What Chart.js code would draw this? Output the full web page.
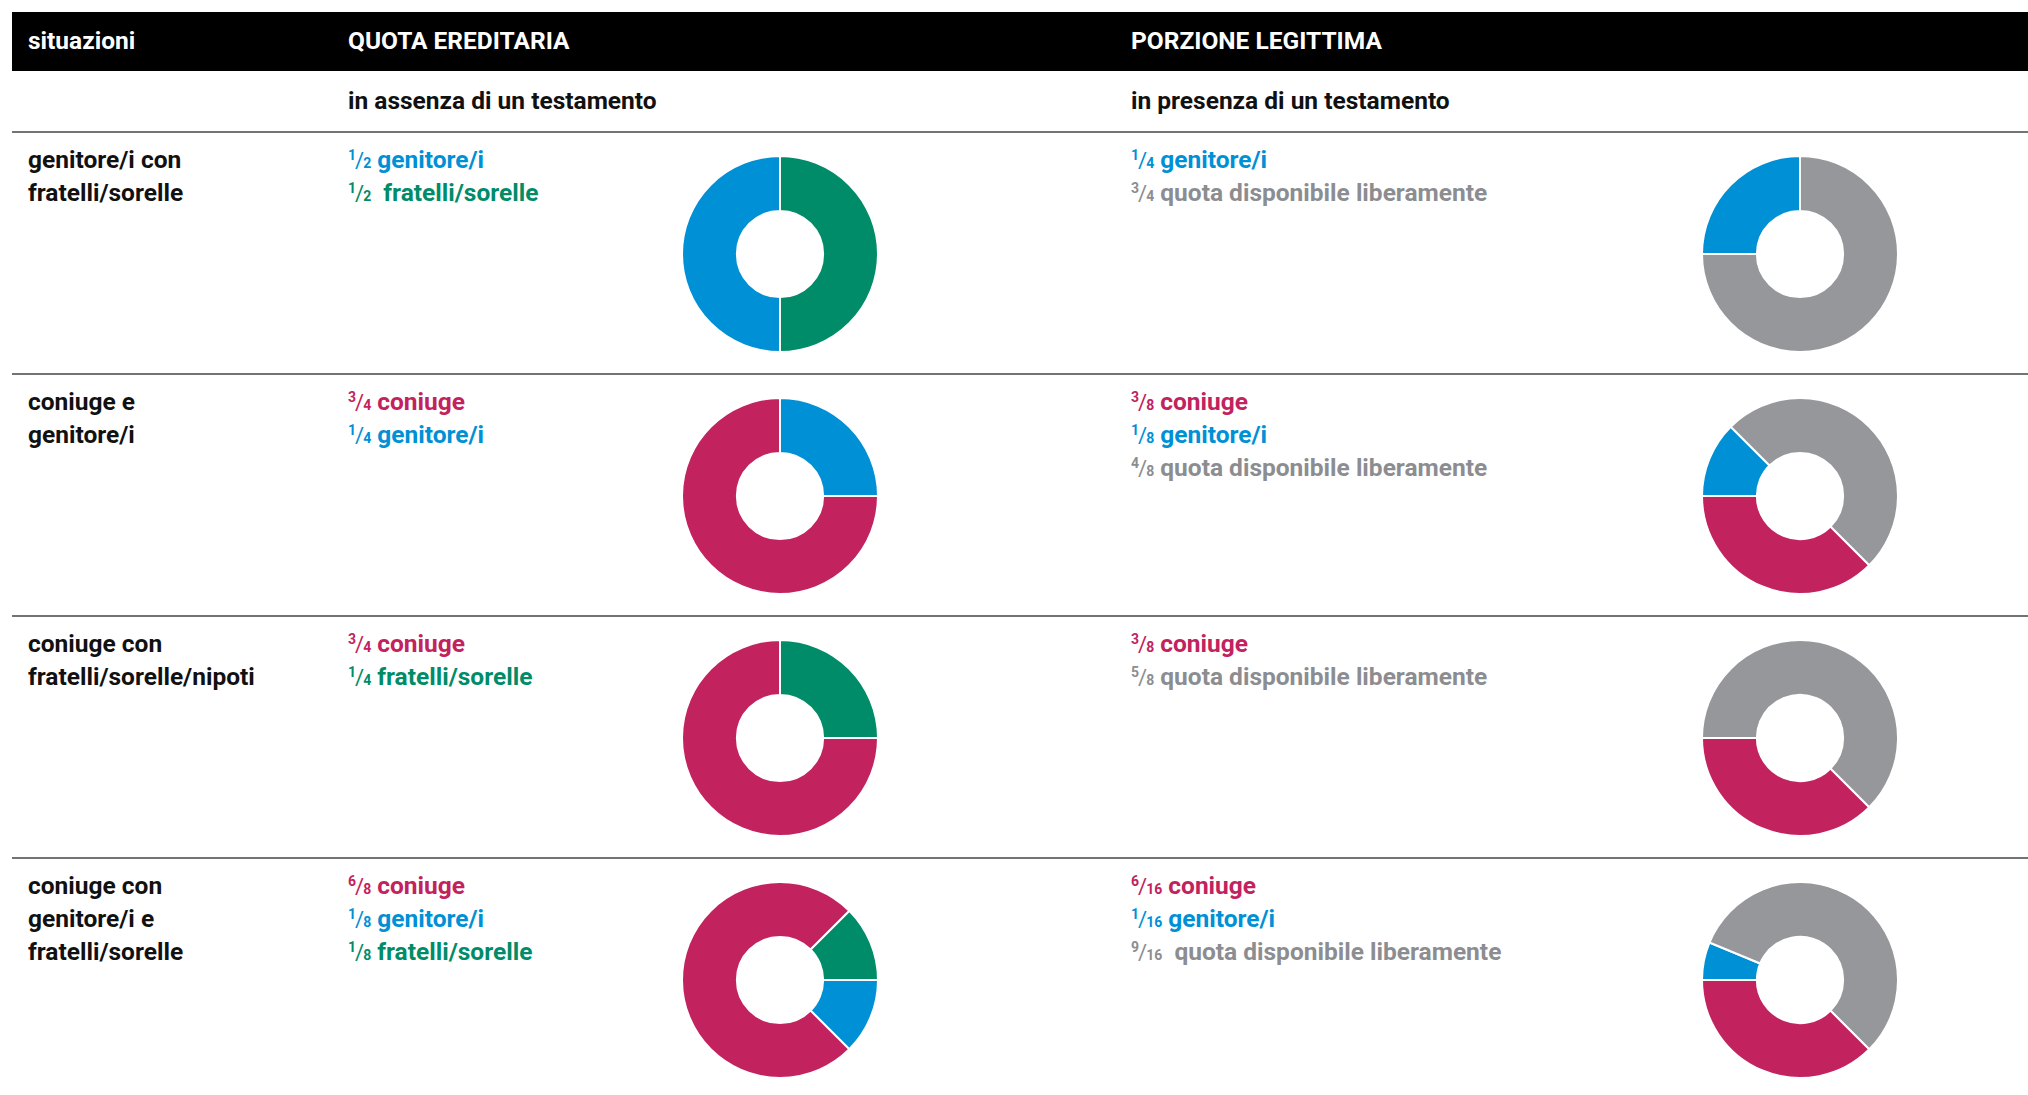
<!DOCTYPE html>
<html lang="it">
<head>
<meta charset="UTF-8">
<title>Quota ereditaria e porzione legittima</title>
<script src="https://cdn.jsdelivr.net/npm/chart.js"></script>
<style>
  body { margin: 0; width: 2028px; height: 1095px; overflow: hidden; position: relative; background: #fff;
         font-family: "Roboto", sans-serif; font-weight: bold; }
  .band { position: absolute; left: 12px; top: 12px; width: 2016px; height: 59px; background: #000; }
  .hd { position: absolute; top: 11px; line-height: 59px; font-size: 24.5px; color: #fff; }
  .sub { position: absolute; top: 84px; line-height: 34px; font-size: 24.5px; color: #111; }
  .rule { position: absolute; left: 12px; width: 2016px; height: 2px; background: #737373; }
  .cell { position: absolute; font-size: 24.5px; line-height: 33px; color: #111; white-space: nowrap; }
  .num, .den { font-size: 14px; }
  .num { position: relative; top: -8px; }
  .sl { font-weight: normal; font-size: 22px; margin: 0 -1px; }
  canvas { position: absolute; }
</style>
</head>
<body>
<div class="band"></div>
<div class="hd" style="left:28px">situazioni</div>
<div class="hd" style="left:348px">QUOTA EREDITARIA</div>
<div class="hd" style="left:1131px">PORZIONE LEGITTIMA</div>
<div class="sub" style="left:348px">in assenza di un testamento</div>
<div class="sub" style="left:1131px">in presenza di un testamento</div>

<script>
    const situazioni = [
        ['genitore/i con', 'fratelli/sorelle'],
        ['coniuge e', 'genitore/i'],
        ['coniuge con', 'fratelli/sorelle/nipoti'],
        ['coniuge con', 'genitore/i e', 'fratelli/sorelle']
    ];

    // quota ereditaria (in assenza di un testamento)
    const quotaEredi = [
        ['genitore/i', 'fratelli/sorelle'],
        ['coniuge', 'genitore/i'],
        ['coniuge', 'fratelli/sorelle'],
        ['coniuge', 'genitore/i', 'fratelli/sorelle']
    ];
    const quotaNumeratori = [[1, 1], [3, 1], [3, 1], [6, 1, 1]];
    const quotaDenominatori = [2, 4, 4, 8];

    // porzione legittima (in presenza di un testamento)
    const legittimaEredi = [
        ['genitore/i', 'quota disponibile liberamente'],
        ['coniuge', 'genitore/i', 'quota disponibile liberamente'],
        ['coniuge', 'quota disponibile liberamente'],
        ['coniuge', 'genitore/i', 'quota disponibile liberamente']
    ];
    const legittimaNumeratori = [[1, 3], [3, 1, 4], [3, 5], [6, 1, 9]];
    const legittimaDenominatori = [4, 8, 8, 16];

    const coloriEredi = {
        'coniuge': '#c2225e',
        'genitore/i': '#0090d6',
        'fratelli/sorelle': '#008c68',
        'quota disponibile liberamente': '#96979b'
    };
    const coloriTesto = {
        'coniuge': '#c2225e',
        'genitore/i': '#0090d6',
        'fratelli/sorelle': '#008c68',
        'quota disponibile liberamente': '#8c8d91'
    };

    // start angle and drawing order of each ring
    const quotaRotazione = [180, 90, 90, 45];
    const quotaOrdine = [[0, 1], [0, 1], [0, 1], [2, 1, 0]];
    const legittimaRotazione = [270, 135, 135, 135];
    const legittimaOrdine = [[0, 1], [0, 1, 2], [0, 1], [0, 1, 2]];

    const rowTops = [132, 374, 616, 858];
    const size = 198;

    function addDiv(cls, left, top, html, color) {
        const d = document.createElement('div');
        d.className = cls;
        d.style.left = left + 'px';
        d.style.top = top + 'px';
        if (color) d.style.color = color;
        d.innerHTML = html;
        document.body.appendChild(d);
    }

    function fraction(n, d) {
        return '<span class="num">' + n + '</span><span class="sl">/</span><span class="den">' + d + '</span>';
    }

    function addLegend(left, top, eredi, nums, den, wide) {
        eredi.forEach((name, i) => {
            const gap = wide && i === eredi.length - 1 ? '&nbsp; ' : ' ';
            addDiv('cell', left, top + i * 33, fraction(nums[i], den) + gap + name, coloriTesto[name]);
        });
    }

    function addDonut(cx, cy, eredi, nums, order, rotation) {
        const canvas = document.createElement('canvas');
        canvas.width = size;
        canvas.height = size;
        canvas.style.left = (cx - size / 2) + 'px';
        canvas.style.top = (cy - size / 2) + 'px';
        document.body.appendChild(canvas);
        new Chart(canvas.getContext('2d'), {
            type: 'doughnut',
            data: {
                labels: order.map(i => eredi[i]),
                datasets: [{
                    data: order.map(i => nums[i]),
                    backgroundColor: order.map(i => coloriEredi[eredi[i]]),
                    borderColor: '#ffffff',
                    borderWidth: 2
                }]
            },
            options: {
                responsive: false,
                animation: false,
                cutout: '44%',
                rotation: rotation,
                layout: { padding: 0 },
                plugins: {
                    legend: { display: false },
                    tooltip: { enabled: false }
                }
            }
        });
    }

    rowTops.forEach((top, r) => {
        const rule = document.createElement('div');
        rule.className = 'rule';
        rule.style.top = (top - 1) + 'px';
        document.body.appendChild(rule);

        situazioni[r].forEach((line, i) => addDiv('cell', 28, top + 11 + i * 33, line));

        addLegend(348, top + 11, quotaEredi[r], quotaNumeratori[r], quotaDenominatori[r], r === 0);
        addLegend(1131, top + 11, legittimaEredi[r], legittimaNumeratori[r], legittimaDenominatori[r], r === 3);

        addDonut(780, top + 121.5, quotaEredi[r], quotaNumeratori[r], quotaOrdine[r], quotaRotazione[r]);
        addDonut(1800, top + 121.5, legittimaEredi[r], legittimaNumeratori[r], legittimaOrdine[r], legittimaRotazione[r]);
    });
</script>
</body>
</html>
